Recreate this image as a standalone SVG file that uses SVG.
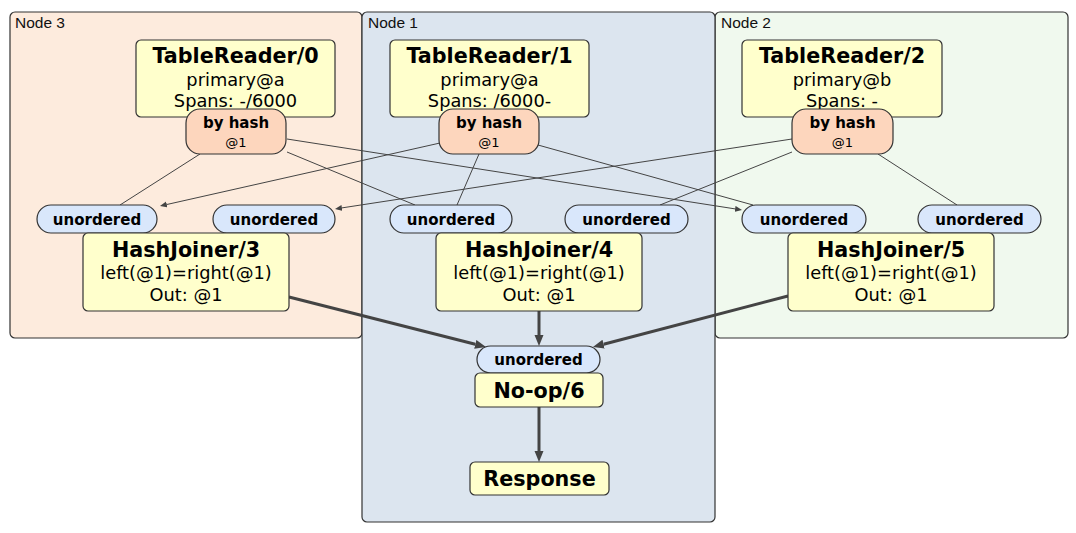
<svg xmlns="http://www.w3.org/2000/svg" width="1076" height="533" viewBox="0 0 1076 533">
<defs>
<style>
.cl{stroke:#333;stroke-width:1.2}
.cl-lbl{font-family:"Liberation Sans",Arial,sans-serif;font-size:15.5px;fill:#111}
.box{fill:#ffffcc;stroke:#333;stroke-width:1.2}
.hash{fill:#fdd6bd;stroke:#333;stroke-width:1.2}
.pill{fill:#d9e7fb;stroke:#333;stroke-width:1.2}
.t{font-family:"DejaVu Sans",Verdana,sans-serif;fill:#000;text-anchor:middle}
.title{font-size:20.7px;font-weight:bold}
.sub{font-size:17.8px}
.pt{font-size:15px;font-weight:bold}
.small{font-size:13px}
.thin{stroke:#444;stroke-width:1;fill:none}
.thick{stroke:#444;stroke-width:3;fill:none}
</style>
<marker id="ah" markerUnits="userSpaceOnUse" markerWidth="12" markerHeight="10" refX="0" refY="4.5" orient="auto">
<path d="M0,0 L11,4.5 L0,9 z" fill="#444"/>
</marker>
<marker id="as" markerUnits="userSpaceOnUse" markerWidth="8" markerHeight="7" refX="0" refY="3" orient="auto">
<path d="M0,0 L7,3 L0,6 z" fill="#444"/>
</marker>
</defs>

<g id="cluster-node3">
<rect class="cl" x="10" y="12" width="352" height="326" rx="5" fill="#fdebdd"/>
<text class="cl-lbl" x="15" y="28">Node 3</text>
</g>
<g id="cluster-node2">
<rect class="cl" x="715" y="12" width="353" height="326" rx="5" fill="#f0f9ee"/>
<text class="cl-lbl" x="721" y="28">Node 2</text>
</g>
<g id="cluster-node1">
<rect class="cl" x="362" y="12" width="353" height="510" rx="5" fill="#dce5ef"/>
<text class="cl-lbl" x="368" y="28">Node 1</text>
</g>

<g id="connectors">
<line class="thin" x1="200" y1="154" x2="120" y2="205"/>
<line class="thin" x1="287" y1="152" x2="415" y2="205"/>
<line class="thin" x1="287" y1="139" x2="735.1" y2="208.9" marker-end="url(#as)"/>
<line class="thin" x1="440" y1="143" x2="166.8" y2="204.5" marker-end="url(#as)"/>
<line class="thin" x1="479" y1="154" x2="457" y2="205"/>
<line class="thin" x1="538" y1="145" x2="753" y2="205"/>
<line class="thin" x1="792" y1="139" x2="341.9" y2="207.9" marker-end="url(#as)"/>
<line class="thin" x1="792" y1="152" x2="660" y2="205"/>
<line class="thin" x1="878" y1="154" x2="957" y2="205"/>
<line class="thick" x1="289" y1="297" x2="475.3" y2="344.3" marker-end="url(#ah)"/>
<line class="thick" x1="539" y1="311" x2="539" y2="335" marker-end="url(#ah)"/>
<line class="thick" x1="788" y1="296" x2="603.6" y2="344.2" marker-end="url(#ah)"/>
<line class="thick" x1="539" y1="407" x2="539" y2="451" marker-end="url(#ah)"/>
</g>

<g id="tablereader0">
<rect class="box" x="136" y="40" width="199" height="77" rx="5"/>
<text class="t title" x="235.5" y="63">TableReader/0</text>
<text class="t sub" x="235.5" y="86">primary@a</text>
<text class="t sub" x="235.5" y="107">Spans: -/6000</text>
</g>
<g id="hash0">
<rect class="hash" x="186" y="109" width="100" height="45" rx="14"/>
<text class="t pt" x="236" y="128">by hash</text>
<text class="t small" x="236" y="147">@1</text>
</g>

<g id="tablereader1">
<rect class="box" x="390" y="40" width="199" height="77" rx="5"/>
<text class="t title" x="489.5" y="63">TableReader/1</text>
<text class="t sub" x="489.5" y="86">primary@a</text>
<text class="t sub" x="489.5" y="107">Spans: /6000-</text>
</g>
<g id="hash1">
<rect class="hash" x="439" y="109" width="100" height="45" rx="14"/>
<text class="t pt" x="489" y="128">by hash</text>
<text class="t small" x="489" y="147">@1</text>
</g>

<g id="tablereader2">
<rect class="box" x="742" y="40" width="200" height="77" rx="5"/>
<text class="t title" x="842" y="63">TableReader/2</text>
<text class="t sub" x="842" y="86">primary@b</text>
<text class="t sub" x="842" y="107">Spans: -</text>
</g>
<g id="hash2">
<rect class="hash" x="792" y="109" width="101" height="45" rx="14"/>
<text class="t pt" x="842.5" y="128">by hash</text>
<text class="t small" x="842.5" y="147">@1</text>
</g>

<g id="hj3-in0">
<rect class="pill" x="37" y="205" width="120" height="28" rx="14"/>
<text class="t pt" x="97" y="224.5">unordered</text>
</g>
<g id="hj3-in1">
<rect class="pill" x="213" y="205" width="122" height="28" rx="14"/>
<text class="t pt" x="274" y="224.5">unordered</text>
</g>
<g id="hashjoiner3">
<rect class="box" x="83" y="233" width="206" height="78" rx="5"/>
<text class="t title" x="186" y="257">HashJoiner/3</text>
<text class="t sub" x="186" y="279">left(@1)=right(@1)</text>
<text class="t sub" x="186" y="301">Out: @1</text>
</g>

<g id="hj4-in0">
<rect class="pill" x="390" y="205" width="122" height="28" rx="14"/>
<text class="t pt" x="451" y="224.5">unordered</text>
</g>
<g id="hj4-in1">
<rect class="pill" x="565" y="205" width="123" height="28" rx="14"/>
<text class="t pt" x="626.5" y="224.5">unordered</text>
</g>
<g id="hashjoiner4">
<rect class="box" x="436" y="233" width="206" height="78" rx="5"/>
<text class="t title" x="539" y="257">HashJoiner/4</text>
<text class="t sub" x="539" y="279">left(@1)=right(@1)</text>
<text class="t sub" x="539" y="301">Out: @1</text>
</g>

<g id="hj5-in0">
<rect class="pill" x="742" y="205" width="124" height="28" rx="14"/>
<text class="t pt" x="804" y="224.5">unordered</text>
</g>
<g id="hj5-in1">
<rect class="pill" x="918" y="205" width="123" height="28" rx="14"/>
<text class="t pt" x="979.5" y="224.5">unordered</text>
</g>
<g id="hashjoiner5">
<rect class="box" x="788" y="233" width="206" height="78" rx="5"/>
<text class="t title" x="891" y="257">HashJoiner/5</text>
<text class="t sub" x="891" y="279">left(@1)=right(@1)</text>
<text class="t sub" x="891" y="301">Out: @1</text>
</g>

<g id="noop6-in">
<rect class="pill" x="477" y="346" width="123" height="27" rx="13.5"/>
<text class="t pt" x="538.5" y="365">unordered</text>
</g>
<g id="noop6">
<rect class="box" x="475" y="373" width="128" height="34" rx="5"/>
<text class="t title" x="539" y="397.5">No-op/6</text>
</g>
<g id="response">
<rect class="box" x="470" y="462" width="139" height="33" rx="5"/>
<text class="t title" x="539.5" y="485.5">Response</text>
</g>
</svg>
